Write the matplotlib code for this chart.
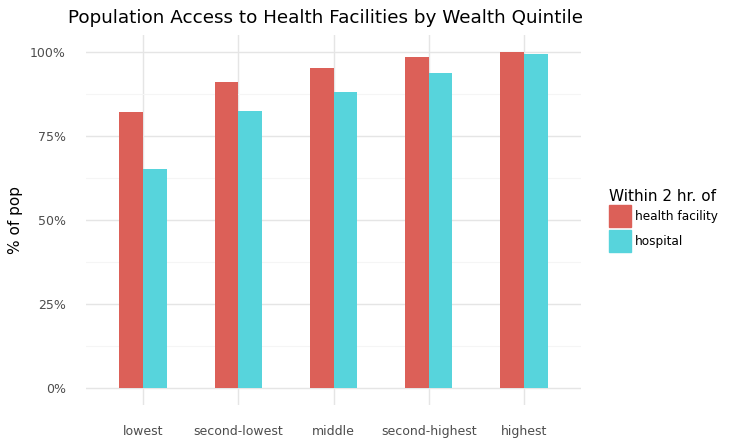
import numpy as np
import matplotlib
matplotlib.use("Agg")
import matplotlib.pyplot as plt
from matplotlib.patches import Rectangle
from matplotlib.ticker import FixedLocator

categories = ["lowest", "second-lowest", "middle", "second-highest", "highest"]
health_facility = [0.821, 0.911, 0.952, 0.985, 1.000]
hospital = [0.652, 0.824, 0.881, 0.937, 0.994]
series_names = ["health facility", "hospital"]
colors = ["#DC6058", "#57D4DC"]

W, H = 745, 448
fig = plt.figure(figsize=(W / 100, H / 100), dpi=100)
ax = fig.add_axes([86 / W, 1 - 404.8 / H, (581 - 86) / W, (404.8 - 35.2) / H])

x = np.arange(len(categories))
bw = 0.25
ax.bar(x - bw / 2, health_facility, width=bw, color=colors[0], zorder=3)
ax.bar(x + bw / 2, hospital, width=bw, color=colors[1], zorder=3)

ax.set_xlim(-0.6, len(categories) - 0.4)
ax.set_ylim(-0.05, 1.05)
ax.set_xticks(x)
ax.set_xticklabels(categories)
yt = [0, 0.25, 0.5, 0.75, 1.0]
ax.set_yticks(yt)
ax.set_yticklabels([f"{int(v * 100)}%" for v in yt])
ax.yaxis.set_minor_locator(FixedLocator([0.125, 0.375, 0.625, 0.875]))

ax.grid(which="major", color="#E5E5E5", linewidth=1.0, zorder=0)
ax.grid(which="minor", axis="y", color="#F5F5F5", linewidth=0.8, zorder=0)
for s in ax.spines.values():
    s.set_visible(False)
ax.tick_params(which="both", length=0)
ax.tick_params(axis="x", pad=14.5, labelsize=9, labelcolor="#4D4D4D")
ax.tick_params(axis="y", pad=14.5, labelsize=9, labelcolor="#4D4D4D")
ax.set_ylabel("% of pop", fontsize=11)
ax.yaxis.set_label_coords(-(86 - 23) / (581 - 86), 0.5)

fig.text(325 / W, 1 - 18 / H, "Population Access to Health Facilities by Wealth Quintile",
         ha="center", va="center", fontsize=13.2)

# legend
fig.text(609 / W, 1 - 196 / H, "Within 2 hr. of", ha="left", va="center", fontsize=11)
for i, (name, c) in enumerate(zip(series_names, colors)):
    top = 205 + i * 25
    fig.add_artist(Rectangle((609 / W, 1 - (top + 22) / H), 22 / W, 22 / H,
                             transform=fig.transFigure, color=c))
    fig.text(635 / W, 1 - (top + 11) / H, name, ha="left", va="center", fontsize=8.7)

fig.savefig("out.png", dpi=100)
